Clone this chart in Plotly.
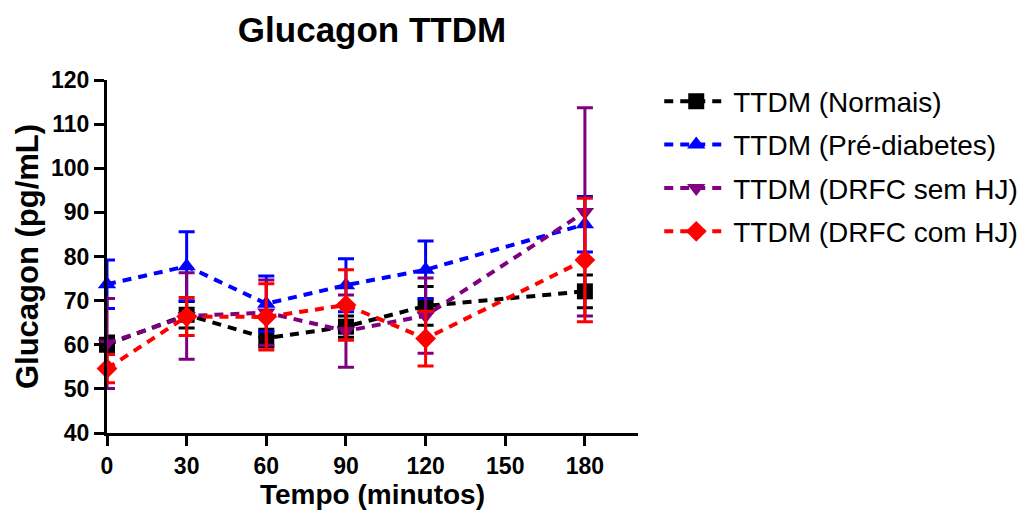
import plotly.graph_objects as go

tempo = [0, 30, 60, 90, 120, 180]

normais = [60.0, 66.8, 61.5, 64.1, 68.8, 72.1]
normais_err = [2.0, 3.0, 2.0, 2.4, 4.4, 3.7]

pre_diabetes = [73.7, 77.8, 69.3, 73.5, 77.0, 87.3]
pre_diabetes_err = [5.5, 7.8, 6.3, 6.0, 6.5, 6.3]

drfc_sem = [60.3, 66.5, 67.3, 63.1, 66.6, 90.1]
drfc_sem_err = [10.2, 9.8, 7.4, 8.2, 8.5, 23.6]

drfc_com = [54.6, 66.4, 66.3, 69.0, 61.4, 79.2]
drfc_com_err = [3.2, 4.3, 7.5, 8.0, 6.2, 14.0]

names = ["TTDM (Normais)", "TTDM (Pré-diabetes)", "TTDM (DRFC sem HJ)", "TTDM (DRFC com HJ)"]
colors = ["#000000", "#0000FF", "#800080", "#FF0000"]
symbols = ["square", "triangle-up", "triangle-down", "diamond"]
series = [(normais, normais_err), (pre_diabetes, pre_diabetes_err),
          (drfc_sem, drfc_sem_err), (drfc_com, drfc_com_err)]

FONT = "Liberation Sans"

fig = go.Figure()
for i, ((vals, errs), name, col, sym) in enumerate(zip(series, names, colors, symbols)):
    fig.add_trace(go.Scatter(
        x=tempo, y=vals, name=name, mode="lines+markers",
        legendgroup=f"g{i}",
        line=dict(color=col, width=4, dash="9px,7px"),
        marker=dict(symbol=sym, size=16, color=col, line=dict(width=0)),
        error_y=dict(type="data", array=errs, visible=True, color=col,
                     thickness=3, width=8),
        cliponaxis=False,
    ))

# page body has an 8px offset, so the figure is sized/placed to compensate
fig.update_layout(
    width=1027, height=511,
    paper_bgcolor="white", plot_bgcolor="white",
    margin=dict(l=99, r=397, t=72, b=86, autoexpand=False),
    title=dict(text="Glucagon TTDM", x=364 / 1027, xanchor="center",
               y=1 - 22 / 511, yanchor="middle",
               font=dict(family=FONT, size=35, color="black", weight="bold")),
    font=dict(family=FONT, color="black"),
    showlegend=True,
    legend=dict(x=1.04, xanchor="left", y=1.01, yanchor="top",
                font=dict(family=FONT, size=28, color="black"),
                tracegroupgap=4, itemwidth=64, bgcolor="rgba(0,0,0,0)"),
)

fig.update_xaxes(
    range=[0, 200], tickvals=[0, 30, 60, 90, 120, 150, 180],
    showgrid=False, zeroline=False, showline=True, linecolor="black", linewidth=3,
    ticks="outside", ticklen=10, tickwidth=3, tickcolor="black",
    tickfont=dict(family=FONT, size=23, color="black", weight="bold"),
    title=dict(text="Tempo (minutos)",
               font=dict(family=FONT, size=28, color="black", weight="bold"),
               standoff=6),
    automargin=False,
)
fig.update_yaxes(
    range=[40, 120], tickvals=[40, 50, 60, 70, 80, 90, 100, 110, 120],
    showgrid=False, zeroline=False, showline=True, linecolor="black", linewidth=3,
    ticks="outside", ticklen=10, tickwidth=3, tickcolor="black",
    tickfont=dict(family=FONT, size=23, color="black", weight="bold"),
    title=dict(text="Glucagon (pg/mL)",
               font=dict(family=FONT, size=31, color="black", weight="bold"),
               standoff=4),
    automargin=False,
)

fig.write_html("out.html")
